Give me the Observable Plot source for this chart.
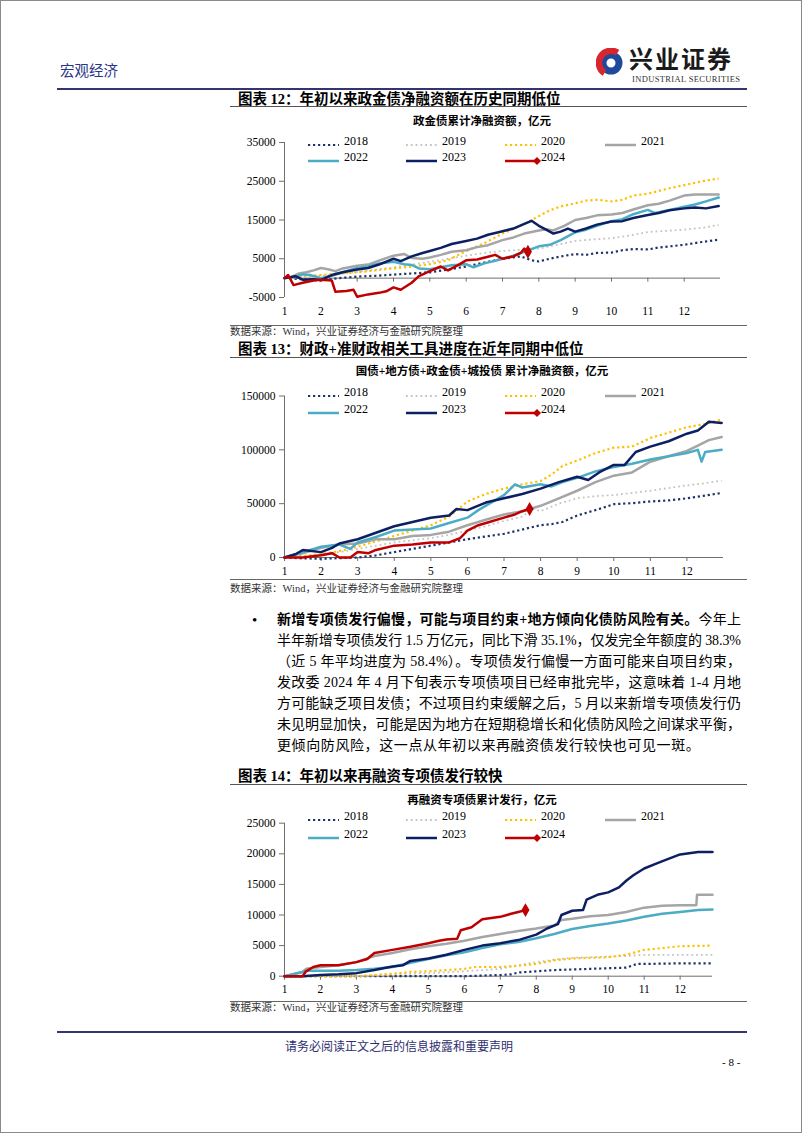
<!DOCTYPE html>
<html><head><meta charset="utf-8">
<script src="https://cdn.jsdelivr.net/npm/d3@7"></script>
<script src="https://cdn.jsdelivr.net/npm/@observablehq/plot@0.6"></script>
<style>
html,body{margin:0;padding:0;background:#fff;}
#page{position:relative;width:802px;height:1133px;overflow:hidden;font-family:'Liberation Serif','Noto Sans CJK SC',serif;color:#000;}
#frame{position:absolute;left:0;top:0;width:802px;height:1133px;box-sizing:border-box;border:1px solid #8a8a8a;pointer-events:none;}
.t{position:absolute;white-space:nowrap;}
</style></head>
<body><div id="page"><div id="frame"></div></div>
<script>
// ---------- data ----------
const xMonths = [1,2,3,4,5,6,7,8,9,10,11,12];
const yearNames = ["2018","2019","2020","2021","2022","2023","2024"];
const ticks1 = [-5000,5000,15000,25000,35000];
const ticks2 = [0,50000,100000,150000];
const ticks3 = [0,5000,10000,15000,20000,25000];

// Chart 12: policy-bank bonds cumulative net financing (month, 亿元)
const c1_2018 = [[1,0],[1.5,-300],[2,-600],[2.5,0],[3,400],[3.5,600],[4,900],[4.5,1200],[5,1500],[5.5,2200],[6,3000],[6.5,4000],[7,5000],[7.5,5600],[7.8,4600],[8,4300],[8.3,5000],[8.6,5600],[9,6200],[9.3,6000],[9.6,6500],[10,6600],[10.3,7200],[10.6,7500],[11,7400],[11.3,7900],[11.6,8200],[12,8600],[12.4,9200],[12.7,9600],[12.95,9900]];
const c1_2019 = [[1,0],[1.5,300],[2,600],[2.5,1000],[3,1600],[3.5,2200],[4,2800],[4.5,3500],[5,4200],[5.5,5000],[6,5800],[6.5,6500],[7,7000],[7.5,7300],[8,7600],[8.5,8600],[9,9600],[9.5,10000],[10,10300],[10.5,11000],[11,11900],[11.5,12200],[12,12500],[12.5,13000],[12.95,13700]];
const c1_2020 = [[1,0],[1.5,500],[2,800],[2.5,1200],[3,1500],[3.5,2000],[4,2500],[4.5,3000],[5,3600],[5.5,4600],[6,7000],[6.5,9000],[7,11500],[7.5,13500],[8,16000],[8.3,17500],[8.6,18500],[9,19300],[9.3,20000],[9.6,20200],[10,19800],[10.3,20200],[10.6,21300],[11,21800],[11.3,22500],[11.6,23200],[12,24000],[12.5,25000],[12.95,25700]];
const c1_2021 = [[1,0],[1.2,300],[1.4,1200],[1.6,1500],[1.8,2000],[2,2600],[2.2,2300],[2.4,1800],[2.6,2500],[3,3200],[3.3,3500],[3.6,4500],[4,5800],[4.3,6200],[4.5,5200],[4.8,5000],[5,5300],[5.3,6000],[5.6,6800],[6,7200],[6.3,8000],[6.6,8500],[7,9800],[7.3,10500],[7.6,11500],[8,12300],[8.2,12600],[8.4,12300],[8.7,13500],[9,15000],[9.3,15500],[9.6,16200],[10,16400],[10.3,16800],[10.6,17700],[11,18800],[11.3,19200],[11.6,20000],[12,21300],[12.3,21600],[12.6,21600],[12.95,21600]];
const c1_2022 = [[1,0],[1.3,400],[1.5,1000],[1.7,800],[2,0],[2.3,600],[2.6,1500],[3,2600],[3.3,3000],[3.6,3800],[4,4200],[4.3,3600],[4.5,3400],[4.7,2500],[5,2300],[5.3,2800],[5.6,3300],[6,3600],[6.2,2800],[6.5,3800],[6.8,4500],[7,5000],[7.3,5800],[7.6,6800],[8,8200],[8.3,8600],[8.6,9800],[9,11800],[9.3,12500],[9.6,13500],[10,14700],[10.3,15200],[10.6,16500],[11,17600],[11.2,16800],[11.4,17200],[11.7,17800],[12,18400],[12.3,19000],[12.6,19800],[12.95,20800]];
const c1_2023 = [[1,0],[1.3,500],[1.5,-400],[1.8,-300],[2,-500],[2.3,800],[2.6,1500],[3,2200],[3.3,2600],[3.6,3500],[4,5000],[4.2,4400],[4.5,5600],[4.8,6500],[5,7000],[5.3,7800],[5.6,8800],[6,9600],[6.3,10200],[6.6,11200],[7,12100],[7.3,12800],[7.6,14000],[7.8,14800],[8,13500],[8.2,12500],[8.4,11500],[8.6,12000],[8.8,12800],[9,12000],[9.3,12800],[9.6,13800],[10,14600],[10.3,14700],[10.6,15500],[11,16300],[11.3,16800],[11.6,17500],[12,18000],[12.3,18200],[12.6,18000],[12.95,18600]];
const c1_2024 = [[1,0],[1.1,800],[1.25,-1800],[1.5,-1200],[1.8,-600],[2,-400],[2.3,-600],[2.4,-3500],[2.7,-3300],[2.9,-3000],[3,-4800],[3.3,-4200],[3.6,-3800],[3.8,-3400],[4,-2400],[4.2,-3000],[4.5,-1200],[4.7,500],[5,1800],[5.3,3000],[5.5,2000],[5.8,3500],[6,4600],[6.3,4800],[6.6,5500],[6.8,6000],[7,5000],[7.3,5600],[7.5,6500],[7.6,7600],[7.7,6800]];

// Chart 13: treasury + local + policy-bank + LGFV bonds cumulative net financing
const c2_2018 = [[1,0],[1.5,-800],[2,-1200],[2.5,-600],[3,0],[3.5,2000],[4,5000],[4.5,8000],[5,11000],[5.5,14000],[6,17000],[6.5,19500],[7,22000],[7.5,26000],[8,30000],[8.3,31000],[8.6,33000],[9,39000],[9.3,42000],[9.6,45000],[10,49500],[10.5,50500],[11,52000],[11.5,53000],[12,55000],[12.5,57500],[12.95,60000]];
const c2_2019 = [[1,0],[1.5,1000],[2,3000],[2.5,5000],[3,8000],[3.5,11000],[4,14000],[4.5,16000],[5,18000],[5.5,21000],[6,25000],[6.5,29000],[7,34000],[7.5,38000],[7.8,45000],[8,43000],[8.5,50000],[9,55000],[9.5,57000],[10,58000],[10.5,60000],[11,62000],[11.5,64500],[12,67000],[12.5,69000],[12.95,71500]];
const c2_2020 = [[1,0],[1.5,1500],[2,3000],[2.5,6000],[3,10000],[3.5,15000],[4,20000],[4.5,25000],[5,30000],[5.5,38000],[6,52000],[6.5,59000],[7,64000],[7.5,68000],[8,71000],[8.3,77000],[8.6,85000],[9,90000],[9.5,97000],[10,102000],[10.5,103000],[11,111000],[11.5,116000],[12,121000],[12.5,124000],[12.95,128000]];
const c2_2021 = [[1,0],[1.5,4000],[2,9000],[2.5,12000],[3,13000],[3.5,17000],[4,17000],[4.5,20000],[5,21000],[5.5,24000],[6,30000],[6.5,35000],[7,40000],[7.5,43000],[8,48000],[8.5,55000],[9,62000],[9.5,70000],[10,76000],[10.5,79000],[11,89000],[11.5,94000],[12,99000],[12.3,104000],[12.6,109000],[12.95,112000]];
const c2_2022 = [[1,0],[1.5,5000],[2,10000],[2.5,12000],[2.8,8000],[3,14000],[3.5,19000],[4,25000],[4.5,26000],[5,27000],[5.5,32000],[6,37000],[6.3,44000],[6.6,50000],[7,58000],[7.3,68000],[7.5,65000],[8,68000],[8.3,66000],[8.6,70000],[9,74000],[9.5,80000],[10,84000],[10.5,87000],[11,91000],[11.5,94000],[12,97000],[12.3,100000],[12.4,89000],[12.5,98000],[12.95,100000]];
const c2_2023 = [[1,0],[1.3,3000],[1.5,7000],[2,5000],[2.3,9000],[2.5,13000],[3,17000],[3.5,23000],[4,29000],[4.5,33000],[5,37000],[5.5,39000],[5.7,45000],[6,44000],[6.5,51000],[7,55000],[7.5,59000],[8,64000],[8.5,70000],[9,75000],[9.3,72000],[9.6,79000],[10,86000],[10.3,86000],[10.6,98000],[11,103000],[11.5,108000],[12,115000],[12.3,118000],[12.6,126000],[12.95,125000]];
const c2_2024 = [[1,0],[1.5,0],[2,2000],[2.3,4000],[2.5,0],[2.8,0],[3,5000],[3.3,4000],[3.5,7000],[4,11000],[4.5,12000],[5,14000],[5.5,14000],[5.8,18000],[6,25000],[6.3,30000],[6.6,33000],[7,37000],[7.3,40000],[7.5,43000],[7.7,45000]];

// Chart 14: refinancing special bonds cumulative issuance
const c3_2018 = [[1,0],[6,0],[6.5,100],[7,200],[7.3,300],[7.5,600],[8,800],[8.5,1000],[9,1100],[9.5,1200],[10,1300],[10.5,1400],[10.8,2000],[11,2000],[12,2100],[12.9,2100]];
const c3_2019 = [[1,0],[3,0],[3.5,100],[4,300],[5,500],[6,800],[7,1200],[7.5,1800],[8,2300],[8.5,2700],[9,3000],[9.5,3100],[10,3200],[10.5,3300],[11,3500],[12,3500],[12.9,3500]];
const c3_2020 = [[1,0],[3,0],[3.5,200],[4,400],[4.5,700],[5,800],[5.5,1000],[6,1200],[6.3,1500],[7,1500],[7.5,1700],[8,2000],[8.5,2600],[9,2900],[9.5,3000],[10,3100],[10.5,3500],[11,4300],[11.5,4600],[12,4900],[12.9,5000]];
const c3_2021 = [[1,0],[1.5,700],[1.6,1200],[2,1500],[2.5,1800],[3,2300],[3.5,3300],[4,3800],[4.5,4400],[5,4900],[5.5,5300],[6,5800],[6.5,6400],[7,6900],[7.5,7400],[8,7800],[8.5,8300],[8.7,9200],[9,9400],[9.5,9800],[10,10000],[10.5,10500],[11,11200],[11.5,11500],[12,11600],[12.45,11600],[12.47,13300],[12.9,13300]];
const c3_2022 = [[1,0],[1.5,700],[1.6,900],[2,900],[2.5,900],[3,1000],[3.5,1200],[4,1500],[4.5,2200],[5,2800],[5.5,3400],[6,3900],[6.5,4600],[7,5200],[7.5,5600],[8,6200],[8.5,6900],[9,7700],[9.5,8200],[10,8600],[10.5,9100],[11,9700],[11.5,10200],[12,10500],[12.5,10800],[12.9,10900]];
const c3_2023 = [[1,0],[1.5,0],[2,200],[2.5,300],[3,500],[3.5,1000],[4,1600],[4.3,1800],[4.5,2500],[5,2900],[5.5,3500],[6,4300],[6.5,5000],[7,5400],[7.5,5900],[8,6800],[8.3,7800],[8.6,8500],[8.7,10000],[9,10700],[9.3,10800],[9.4,12500],[9.7,13300],[10,13700],[10.3,14500],[10.5,15600],[10.7,16500],[11,17600],[11.3,18300],[11.6,19000],[12,19900],[12.5,20300],[12.9,20300]];
const c3_2024 = [[1,0],[1.5,0],[1.6,800],[1.8,1500],[2,1800],[2.5,1800],[3,2300],[3.3,2800],[3.5,3800],[4,4300],[4.5,4800],[5,5400],[5.3,5800],[5.5,6000],[5.8,6100],[5.9,7500],[6.2,8000],[6.5,9300],[7,9700],[7.3,10200],[7.5,10500],[7.7,10800]];

// ---------- styles ----------
const AX = "#6f6f6f";
const RED = "#c00000";
const lineStyles = [
  {color:"#1f3368", width:2.2, dash:"2.2,2.8"},
  {color:"#c4c4c4", width:1.8, dash:"1.8,3"},
  {color:"#ffc000", width:2.2, dash:"2.2,2.8"},
  {color:"#a5a5a5", width:2.5, dash:null},
  {color:"#4bacc6", width:2.5, dash:null},
  {color:"#0d1f63", width:2.5, dash:null},
  {color:RED, width:2.5, dash:null}
];

const page = document.getElementById("page");
function el(tag, css, html){ const e=document.createElement(tag); e.style.cssText=css; if(html!=null) e.innerHTML=html; page.appendChild(e); return e; }
function txt(html, x, yc, css, lh){ lh = lh||18; const e = el("div", `left:${x}px;top:${yc-lh/2}px;line-height:${lh}px;${css||""}`, html); e.classList.add("t"); return e; }
function ctxt(html, cx, yc, css, lh){ lh = lh||18; const e = el("div", `left:${cx}px;top:${yc-lh/2}px;line-height:${lh}px;transform:translateX(-50%);${css||""}`, html); e.classList.add("t"); return e; }
function hline(x1, x2, y, w, c){ el("div", `position:absolute;left:${x1}px;top:${y-w/2}px;width:${x2-x1}px;height:${w}px;background:${c};`); }

const CJK = "'Liberation Serif','Noto Sans CJK SC',serif";

// ---------- header ----------
txt("宏观经济", 60, 70, `font-family:'Noto Sans CJK SC';font-size:14.5px;color:#2c3585;`, 20);
el("div", "position:absolute;left:596px;top:48px;", `
<svg width="30" height="30" viewBox="0 0 30 30">
  <circle cx="15" cy="15" r="8" fill="none" stroke="#1f4a9c" stroke-width="7"/>
  <path d="M 21.5 4.7 A 11.5 11.5 0 1 0 8.5 25" fill="none" stroke="#d8262f" stroke-width="6.5"/>
  <circle cx="15" cy="15.5" r="3.2" fill="#fff"/>
</svg>`);
txt("兴业证券", 629, 58, "font-family:'Noto Sans CJK SC';font-weight:700;font-size:24px;letter-spacing:2px;color:#1a1a1a;", 24);
txt("INDUSTRIAL SECURITIES", 632, 79.5, "font-family:'Liberation Serif';font-size:8.5px;letter-spacing:0.35px;color:#333;", 9);
hline(57, 747, 88.5, 2, "#34346e");

// ---------- titles / sources ----------
function title(label, yc, uy){
  txt(label, 238, yc, `font-family:${CJK};font-weight:700;font-size:14.5px;`, 20);
  hline(230, 747, uy, 1, "#555");
}
function source(lineY, yc){
  hline(230, 747, lineY, 1, "#666");
  txt("数据来源：Wind，兴业证券经济与金融研究院整理", 230, yc, `font-family:${CJK};font-size:10.5px;color:#333;`, 14);
}
title("图表 12：年初以来政金债净融资额在历史同期低位", 99, 106);
title("图表 13：财政+准财政相关工具进度在近年同期中低位", 349, 357);
title("图表 14：年初以来再融资专项债发行较快", 776, 784);

ctxt("政金债累计净融资额，亿元", 482, 121, `font-family:${CJK};font-weight:700;font-size:11.5px;`, 16);
ctxt("国债+地方债+政金债+城投债 累计净融资额，亿元", 482, 371, `font-family:${CJK};font-weight:700;font-size:11.5px;`, 16);
ctxt("再融资专项债累计发行，亿元", 482, 800, `font-family:${CJK};font-weight:700;font-size:11.5px;`, 16);

// ---------- legends ----------
function legend(rows, cols){
  yearNames.forEach((name, i) => {
    const st = lineStyles[i];
    const x = cols[i % 4], y = rows[i < 4 ? 0 : 1];
    const dash = st.dash ? `stroke-dasharray="${st.dash}"` : "";
    const dia = i === 6 ? `<path d="M32 1 L36 5 L32 9 L28 5 Z" fill="${RED}"/>` : "";
    el("div", `position:absolute;left:${x}px;top:${y-5}px;`, `<svg width="40" height="10"><line x1="0" y1="5" x2="${i===6?32:31}" y2="5" stroke="${st.color}" stroke-width="${st.width}" ${dash}/>${dia}</svg>`);
    txt(name, x + 36, y, "font-family:'Liberation Serif';font-size:12px;", 14);
  });
}
const legendCols = [308, 406, 505, 605];
legend([141, 157], legendCols);
legend([392, 409], legendCols);
legend([816, 834], legendCols);

// ---------- charts ----------
function buildChart(series, o){
  const marks = [];
  marks.push(Plot.ruleY([0], {stroke: AX, strokeWidth: 1}));
  marks.push(Plot.ruleX([o.xDomain[0]], {stroke: AX, strokeWidth: 1}));
  marks.push(Plot.axisY({ticks: o.yTicks, tickSize: 5, tickPadding: 4, tickFormat: d => String(d), stroke: AX, fill: "#000"}));
  if (o.lowLabels) {
    marks.push(Plot.axisX({ticks: xMonths, tickSize: 0, tickPadding: o.xPad, tickFormat: d => String(d), fill: "#000"}));
    marks.push(Plot.ruleX(xMonths.slice(1), {x: d => d, y1: () => 0, y2: () => 0, insetBottom: -4, stroke: AX}));
  } else {
    marks.push(Plot.axisX({ticks: xMonths, tickSize: 4, tickPadding: o.xPad, tickFormat: d => String(d), stroke: AX, fill: "#000"}));
  }
  series.forEach((s, i) => {
    const st = lineStyles[i];
    marks.push(Plot.line(s, {x: d => d[0], y: d => d[1], stroke: st.color, strokeWidth: st.width,
      strokeDasharray: st.dash || undefined, strokeLinejoin: "round", strokeLinecap: st.dash ? "butt" : "round"}));
  });
  const s24 = series[6];
  marks.push(Plot.dot(s24.slice(-1), {x: d => d[0], y: d => d[1], symbol: "diamond", fill: RED, r: 4.2}));
  const svg = Plot.plot({
    width: o.width, height: o.height,
    marginLeft: o.mL, marginRight: o.mR, marginTop: o.mT, marginBottom: o.mB,
    x: {domain: o.xDomain}, y: {domain: o.yDomain},
    style: {fontFamily: "'Liberation Serif', serif", fontSize: "11.5px", color: "#000", background: "transparent", overflow: "visible"},
    marks
  });
  svg.style.position = "absolute";
  svg.style.left = o.left + "px";
  svg.style.top = o.top + "px";
  page.appendChild(svg);
}

buildChart([c1_2018,c1_2019,c1_2020,c1_2021,c1_2022,c1_2023,c1_2024],
  {left:220, top:128, width:520, height:200, mL:64, mR:20, mT:14, mB:31, xDomain:[1,13], yDomain:[-5000,35000], yTicks:ticks1, lowLabels:true, xPad:9});
buildChart([c2_2018,c2_2019,c2_2020,c2_2021,c2_2022,c2_2023,c2_2024],
  {left:220, top:385, width:520, height:200, mL:64, mR:17, mT:10.5, mB:28, xDomain:[1,13], yDomain:[0,150000], yTicks:ticks2, lowLabels:false, xPad:5.5});
buildChart([c3_2018,c3_2019,c3_2020,c3_2021,c3_2022,c3_2023,c3_2024],
  {left:220, top:812, width:520, height:200, mL:64, mR:28, mT:10.7, mB:36.3, xDomain:[1,12.9], yDomain:[0,25000], yTicks:ticks3, lowLabels:false, xPad:5});

source(325, 332);
source(579, 589);
source(1001.5, 1008);

// ---------- paragraph ----------
const paraLines = [
  "<b>新增专项债发行偏慢，可能与项目约束+地方倾向化债防风险有关。</b>今年上",
  "半年新增专项债发行 1.5 万亿元，同比下滑 35.1%，仅发完全年额度的 38.3%",
  "（近 5 年平均进度为 58.4%）。专项债发行偏慢一方面可能来自项目约束，",
  "发改委 2024 年 4 月下旬表示专项债项目已经审批完毕，这意味着 1-4 月地",
  "方可能缺乏项目发债；不过项目约束缓解之后，5 月以来新增专项债发行仍",
  "未见明显加快，可能是因为地方在短期稳增长和化债防风险之间谋求平衡，",
  "更倾向防风险，这一点从年初以来再融资债发行较快也可见一斑。"
];
txt("•", 252, 620, "font-family:'Liberation Serif';font-size:15px;", 20);
paraLines.forEach((h, i) => {
  const yc = 620 + i * 21;
  const e = el("div", `position:absolute;left:277px;top:${yc-10}px;line-height:20px;white-space:nowrap;font-family:${CJK};font-size:14px;`, h);
  const n = [...e.textContent].length;
  const w = e.getBoundingClientRect().width;
  if (i < paraLines.length - 1) {
    e.style.letterSpacing = ((464 - w) / (n - 1)) + "px";
  } else {
    e.style.letterSpacing = "0.6px";
  }
});

// ---------- footer ----------
hline(57, 747, 1032, 2, "#34346e");
ctxt("请务必阅读正文之后的信息披露和重要声明", 399, 1046, `font-family:'Noto Sans CJK SC';font-size:12px;color:#2e2e6e;`, 16);
txt("- 8 -", 722, 1062, "font-family:'Liberation Serif';font-size:11px;", 14);
</script>
</body></html>
